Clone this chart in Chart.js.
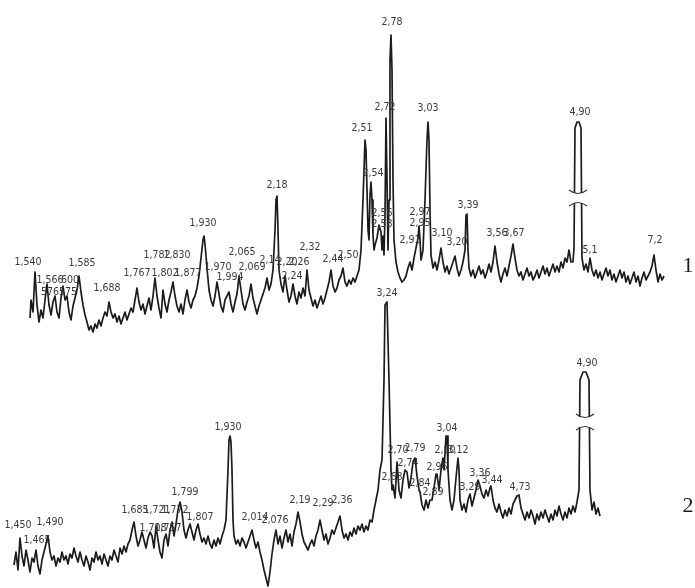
<!DOCTYPE html>
<html>
<head>
<meta charset="utf-8">
<script src="https://cdn.jsdelivr.net/npm/chart.js@4"></script>
<style>
  html, body { margin: 0; padding: 0; background: #ffffff; }
  #wrap { width: 695px; height: 588px; position: relative; }
</style>
</head>
<body>
<div id="wrap"><canvas id="spec"></canvas></div>
<script>
// Spectrum 1 (upper trace): detector channel and signal level
const channel1 = [30,31,33,35,37,39,41,43,45,47,49,51,53,55,57,59,61,63,65,67,69,71,73,75,77,79,81,83,85,87,89,91,93,95,97,99,101,103,105,107,109,111,113,115,117,119,121,123,125,127,129,131,133,135,137,139,141,143,145,147,149,151,153,155,157,159,161,163,165,167,169,171,173,175,177,179,181,183,185,187,189,191,193,195,197,199,201,203,204,205,207,209,211,213,215,217,219,221,223,225,227,229,231,233,235,237,239,241,243,245,247,249,251,253,255,257,259,261,263,265,267,269,271,273,275,276,277,278,279,281,283,285,287,289,291,293,295,297,299,301,303,305,307,309,311,313,315,317,319,321,323,325,327,329,331,333,335,337,339,341,343,345,347,349,351,353,355,357,359,361,363,365,366,367,368,369,370,371,372,373,374,375,377,379,381,382,383,384,385,386,387,388,389,390,391,392,393,394,396,398,400,402,404,406,408,410,412,414,416,418,419,420,421,423,425,427,428,429,430,431,433,435,437,439,441,443,445,447,449,451,453,455,457,459,461,463,465,466,467,468,469,471,473,475,477,479,481,483,485,487,489,491,493,495,497,499,501,503,505,507,509,511,513,515,517,519,521,523,525,527,529,531,533,535,537,539,541,543,545,547,549,551,553,555,557,559,561,563,565,567,569,571,573,574,575,577,579,581,582,584,586,588,590,592,594,596,598,600,602,604,606,608,610,612,614,616,618,620,622,624,626,628,630,632,634,636,638,640,642,644,646,648,650,652,654,656,658,660,662,664];
const signal1 = [270,288,276,316,283,266,278,270,288,304,283,273,286,292,276,270,290,302,288,292,276,268,282,290,298,312,296,283,273,266,258,262,256,264,260,268,262,270,276,272,286,276,270,274,266,272,264,270,276,268,274,280,276,288,300,286,278,284,274,282,290,278,292,310,292,280,270,298,284,276,288,296,306,292,282,276,284,274,288,298,286,280,288,292,300,312,330,348,352,344,320,298,288,282,292,306,294,282,276,288,292,296,284,276,286,294,312,298,284,278,286,292,304,290,282,274,282,288,294,300,310,298,304,318,358,388,392,358,318,304,296,312,298,286,292,304,292,284,296,290,300,292,318,298,290,282,288,280,286,292,284,290,298,306,318,302,296,300,308,312,320,306,302,308,304,310,306,312,318,338,388,448,438,398,358,348,393,406,388,353,338,343,350,363,356,338,352,333,373,470,408,338,388,528,553,518,408,348,326,316,310,306,308,312,320,326,318,330,340,350,362,348,328,338,388,448,466,448,378,333,320,326,318,328,340,326,316,322,314,320,326,332,320,312,318,326,338,373,374,338,320,312,318,310,316,322,314,318,310,316,324,316,326,342,326,314,306,314,320,312,322,332,344,330,318,312,316,308,314,320,312,316,308,312,318,310,316,322,314,320,312,318,324,316,322,316,326,320,330,326,338,326,326,340,460,466,466,460,330,318,324,316,330,318,312,318,310,316,308,314,320,312,318,308,314,306,312,318,310,316,306,312,304,310,316,306,312,302,310,316,308,312,316,322,333,318,306,314,308,312];

// Spectrum 2 (lower trace)
const channel2 = [14,16,18,20,22,24,26,28,30,32,34,36,38,40,42,44,46,48,50,52,54,56,58,60,62,64,66,68,70,72,74,76,78,80,82,84,86,88,90,92,94,96,98,100,102,104,106,108,110,112,114,116,118,120,122,124,126,128,130,132,134,136,138,140,142,144,146,148,150,152,154,156,158,160,162,164,166,168,170,172,174,176,178,180,182,184,186,188,190,192,194,196,198,200,202,204,206,208,210,212,214,216,218,220,222,224,226,228,229,230,231,232,233,234,236,238,240,242,244,246,248,250,252,254,256,258,260,262,264,266,268,270,272,274,276,278,280,282,284,286,288,290,292,294,296,298,300,302,304,306,308,310,312,314,316,318,320,322,324,326,328,330,332,334,336,338,340,342,344,346,348,350,352,354,356,358,360,362,364,366,368,370,372,374,376,378,380,382,384,385,387,389,391,392,393,395,397,399,401,403,405,407,409,411,413,415,417,419,420,422,424,426,428,430,432,434,436,437,439,441,443,444,446,447,448,450,452,454,456,458,459,460,462,464,466,468,470,472,474,476,478,480,482,484,486,488,490,491,493,495,497,499,501,503,505,507,509,511,513,515,517,519,521,523,525,527,529,531,533,535,537,539,541,543,545,547,549,551,553,555,557,559,561,563,565,567,569,571,573,575,577,579,580,583,586,589,590,592,594,596,598,600];
const signal2 = [23,36,18,50,32,22,38,28,16,30,26,38,22,14,28,36,44,52,36,28,32,22,30,26,36,28,32,24,34,30,40,32,26,36,28,22,32,26,18,30,26,36,28,32,24,34,28,22,32,28,38,32,26,40,34,42,36,44,48,58,66,52,42,48,56,48,40,50,56,52,40,62,48,36,30,48,54,42,58,66,52,64,78,86,76,58,50,58,64,56,48,58,64,54,46,50,44,52,44,40,48,42,50,44,52,58,68,118,148,152,146,118,68,52,44,48,42,50,46,40,46,52,58,48,40,46,36,28,18,10,2,16,34,48,58,44,52,40,50,58,46,54,42,56,64,76,66,54,46,42,38,44,48,42,52,58,68,58,48,54,44,50,58,54,60,66,72,58,50,54,48,56,52,60,54,62,58,64,56,62,58,68,66,78,88,98,118,128,208,283,286,208,118,98,103,90,126,98,90,108,118,116,100,110,126,130,112,98,96,83,78,88,80,88,88,100,114,114,98,118,130,118,152,152,118,88,78,88,110,130,118,88,78,84,76,88,94,82,90,98,108,102,94,90,98,92,100,102,88,80,76,84,76,70,78,72,80,74,84,88,92,93,80,74,68,76,70,78,72,64,74,68,76,70,78,72,66,74,68,78,72,82,74,68,76,70,80,74,82,76,86,98,208,216,216,208,98,78,86,74,80,72];

// Peak annotations: text, channel, level
const peakText1 = ['1,540','1,566','576','600','575','1,585','1,688','1,767','1,782','1,802','1,830','1,877','1,930','1,970','1,994','2,065','2,069','2,14','2,18','2,20','2,26','2,24','2,32','2,44','2,50','2,51','2,54','2,56','2,58','2,72','2,78','3,03','2,97','2,95','2,91','3,10','3,20','3,39','3,56','3,67','4,90','5,1','7,2'];
const peakChan1 = [28,50,50,70,68,82,107,137,157,165,177,188,203,218,230,242,252,270,277,287,299,292,310,333,348,362,373,382,382,385,392,428,420,420,410,442,457,468,497,514,580,590,655];
const peakLevel1 = [326,308,296,308,296,325,300,315,333,315,333,315,365,321,311,336,321,328,403,326,326,312,341,329,333,460,415,375,364,481,566,480,376,365,348,355,346,383,355,355,476,338,348];

const peakText2 = ['1,450','1,465','1,490','1,685','1,708','1,721','1,757','1,772','1,799','1,807','1,930','2,014','2,076','2,19','2,29','2,36','3,24','2,68','2,70','2,74','2,79','2,84','2,89','2,96','2,90','3,04','3,12','3,29','3,36','3,44','4,73','4,90'];
const peakChan2 = [18,37,50,135,153,157,168,175,185,200,228,255,275,300,323,342,387,392,398,408,415,420,433,437,445,447,458,470,480,492,520,587];
const peakLevel2 = [63,48,66,78,60,78,60,78,96,71,161,71,68,88,85,88,295,111,138,125,140,105,96,121,138,160,138,101,115,108,101,225];

// Trace numbers and axis breaks on the off-scale peaks
const traceNames = ['1', '2'];
const breakChan = [578, 585];
const breakLevel = [390, 166];

const peakSets = [
  { text: peakText1, chan: peakChan1, level: peakLevel1 },
  { text: peakText2, chan: peakChan2, level: peakLevel2 }
];

const toPoints = (xs, ys) => xs.map((x, i) => ({ x: x, y: ys[i] }));

const annotate = {
  id: 'annotate',
  afterDatasetsDraw(chart) {
    const { ctx, scales: { x, y } } = chart;
    ctx.save();

    // axis-break marks
    breakChan.forEach((c, i) => {
      const px = x.getPixelForValue(c);
      const py = y.getPixelForValue(breakLevel[i]);
      ctx.fillStyle = '#ffffff';
      ctx.fillRect(px - 11, py - 5, 22, 10);
      ctx.strokeStyle = '#333';
      ctx.lineWidth = 1.2;
      ctx.beginPath();
      ctx.moveTo(px - 9, py - 8);
      ctx.quadraticCurveTo(px, py - 1, px + 9, py - 8);
      ctx.moveTo(px - 9, py + 8);
      ctx.quadraticCurveTo(px, py + 1, px + 9, py + 8);
      ctx.stroke();
    });

    // peak labels
    ctx.font = '10.5px "Liberation Sans Narrow", "DejaVu Sans Condensed", sans-serif';
    ctx.fillStyle = '#3a3a3a';
    ctx.textAlign = 'center';
    ctx.textBaseline = 'middle';
    peakSets.forEach(set => {
      set.text.forEach((t, i) => {
        ctx.fillText(t, x.getPixelForValue(set.chan[i]), y.getPixelForValue(set.level[i]));
      });
    });

    // trace numbers at the right end
    ctx.font = '22px "Liberation Serif", "Times New Roman", serif';
    ctx.fillStyle = '#1a1a1a';
    const lastLevels = [signal1[signal1.length - 1], signal2[signal2.length - 1]];
    traceNames.forEach((n, i) => {
      ctx.fillText(n, x.getPixelForValue(688), y.getPixelForValue(lastLevels[i] + 10));
    });
    ctx.restore();
  }
};

new Chart(document.getElementById('spec'), {
  type: 'line',
  data: {
    datasets: [
      { label: traceNames[0], data: toPoints(channel1, signal1) },
      { label: traceNames[1], data: toPoints(channel2, signal2) }
    ]
  },
  options: {
    responsive: true,
    maintainAspectRatio: false,
    animation: false,
    layout: { padding: 0 },
    elements: {
      point: { radius: 0 },
      line: { borderColor: '#1c1c1c', borderWidth: 1.7, tension: 0, borderJoinStyle: 'round' }
    },
    scales: {
      x: { type: 'linear', min: 0, max: 695, display: false },
      y: { type: 'linear', min: 0, max: 588, display: false }
    },
    plugins: { legend: { display: false }, tooltip: { enabled: false } }
  },
  plugins: [annotate]
});
</script>
</body>
</html>
